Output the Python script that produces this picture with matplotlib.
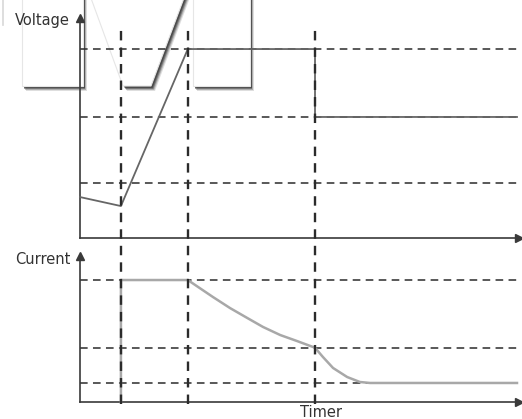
import matplotlib
matplotlib.use("Agg")
import matplotlib.pyplot as plt
from matplotlib.lines import Line2D
from matplotlib.patches import Polygon
from matplotlib import transforms

# time markers (arbitrary time units)
T_END = 9.93
PHASE_TIMES = [0.93, 2.45, 5.34]

# voltage trace and reference levels
volt_t = [0.0, 0.93, 2.45, 5.34, 5.34, 9.93]
volt_v = [0.91, 0.71, 4.2, 4.2, 2.69, 2.69]
volt_levels = [1.22, 2.69, 4.2]
VOLT_TOP = 4.89

# current trace and reference levels
curr_t = [0.93, 0.93, 2.45, 3.02, 3.41, 3.80, 4.16, 4.55, 4.93, 5.34,
          5.52, 5.75, 6.07, 6.36, 6.59, 9.93]
curr_i = [0.0, 1.0, 1.0, 0.861, 0.770, 0.689, 0.615, 0.549, 0.500, 0.445,
          0.369, 0.279, 0.205, 0.164, 0.156, 0.156]
curr_levels = [0.156, 0.445, 1.0]
CURR_TOP = 1.197

labels = {"volt": "Voltage", "curr": "Current", "time": "Timer"}

W, H = 522, 419
DASH = (5, 3.5)
DARK = "#2b2b2b"
AXIS = "#3a3a3a"


def fx(px):
    return px / W


def fy(py):
    return 1 - py / H


fig = plt.figure(figsize=(W / 100, H / 100), dpi=100)

# background decoration: white "M" shapes with drop shadows
bg = fig.add_axes([0, 0, 1, 1], zorder=0)
bg.set_xlim(0, W)
bg.set_ylim(H, 0)
bg.axis("off")
shapes = [
    [(22, -10), (83, -10), (83, 86), (22, 86)],
    [(88, -10), (187, -10), (151, 86), (123, 86)],
    [(193, -10), (250, -10), (250, 86), (193, 86)],
]
for pts in shapes:
    for d, a in [(5, 0.15), (4, 0.25), (3, 0.4), (2, 0.5)]:
        bg.add_patch(Polygon([(x + d * 0.8, y + d) for x, y in pts],
                             closed=True, facecolor="#222222", edgecolor="none",
                             alpha=a, joinstyle="round"))
    bg.add_patch(Polygon(pts, closed=True, facecolor="white",
                         edgecolor="#e6e6e6", lw=0.8))
bg.plot([3, 3], [0, 25], color="#d8d8d8", lw=1.2)

ax_v = fig.add_axes([fx(80), fy(238), fx(437), (238 - 18) / H], zorder=2)
ax_i = fig.add_axes([fx(80), fy(402), fx(437), (402 - 256) / H], zorder=2)

for ax, top in [(ax_v, VOLT_TOP), (ax_i, CURR_TOP)]:
    ax.patch.set_visible(False)
    ax.set_xlim(0, T_END)
    ax.set_ylim(0, top)
    ax.set_xticks([])
    ax.set_yticks([])
    for side in ["top", "right"]:
        ax.spines[side].set_visible(False)
    for side in ["left", "bottom"]:
        ax.spines[side].set_color(AXIS)
        ax.spines[side].set_linewidth(1.2)
    ax.plot([0], [1], marker="^", ms=6, color=AXIS, transform=ax.transAxes, clip_on=False)
    ax.plot([1.005], [0], marker=">", ms=6, color=AXIS, transform=ax.transAxes, clip_on=False)

for lvl in volt_levels:
    ax_v.axhline(lvl, color=DARK, lw=1.1, dashes=DASH, zorder=1)
for lvl in curr_levels:
    ax_i.axhline(lvl, color=DARK, lw=1.1, dashes=DASH, zorder=1)

ax_v.plot(volt_t, volt_v, color="#666666", lw=1.3, zorder=3, clip_on=False)
ax_i.plot(curr_t, curr_i, color="#a8a8a8", lw=1.8, zorder=3, clip_on=False,
          solid_joinstyle="round")

# phase boundaries run through both panels
trans = transforms.blended_transform_factory(ax_v.transData, fig.transFigure)
for t in PHASE_TIMES:
    fig.add_artist(Line2D([t, t], [fy(404), fy(28)], transform=trans,
                          color=DARK, lw=1.7, dashes=(4, 3), zorder=4))

txt = dict(fontsize=10.5, color="#333333", family="DejaVu Sans")
fig.text(fx(70), fy(20), labels["volt"], ha="right", va="center", **txt)
fig.text(fx(70), fy(259), labels["curr"], ha="right", va="center", **txt)
fig.text(fx(321), fy(417), labels["time"], ha="center", va="baseline", **txt)

fig.savefig("out.png", dpi=100)
